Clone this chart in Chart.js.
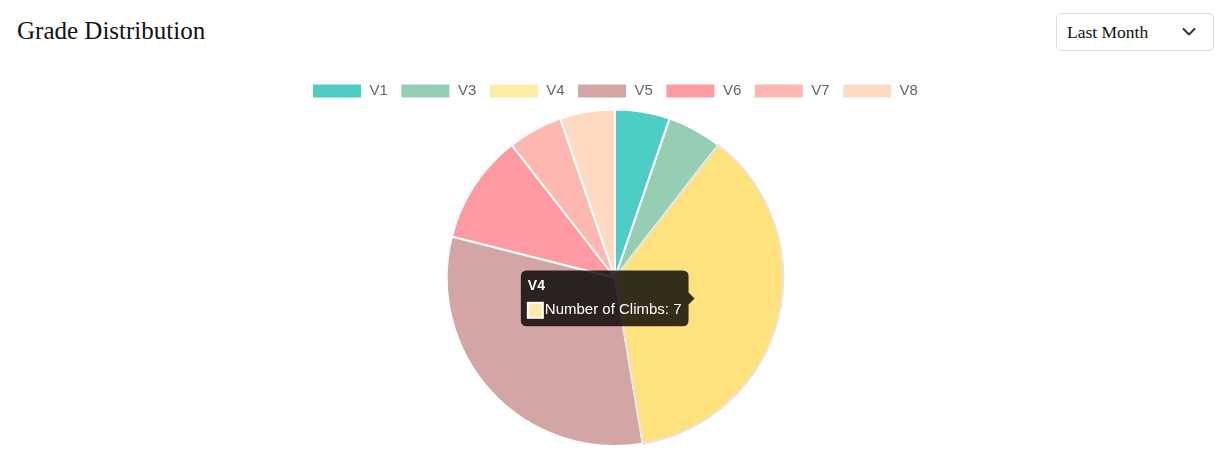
<!DOCTYPE html>
<html>
<head>
<meta charset="utf-8">
<script src="https://cdn.jsdelivr.net/npm/chart.js@4.4.0/dist/chart.umd.min.js"></script>
<style>
  html, body { margin: 0; padding: 0; background: #fff; width: 1230px; height: 459px; overflow: hidden; }
  #title { position: absolute; left: 17px; top: 15px; font-family: "Liberation Serif", "Times New Roman", serif; font-size: 25px; color: #111; margin: 0; font-weight: normal; line-height: 32px; }
  #range { position: absolute; left: 1056px; top: 13px; width: 158px; height: 38px; border: 1px solid #dcdde3; border-radius: 5px; box-sizing: border-box; font-family: "Liberation Serif", "Times New Roman", serif; font-size: 17.5px; color: #111; }
  #range span { position: absolute; left: 10px; top: 7px; line-height: 22px; }
  #range svg { position: absolute; left: 125px; top: 13px; }
  #wrap { position: absolute; left: 0; top: 71px; width: 1230px; height: 376px; }
</style>
</head>
<body>
<h2 id="title">Grade Distribution</h2>
<div id="range"><span>Last Month</span><svg width="14" height="10" viewBox="0 0 14 10"><path d="M1.5 2 L7 7.5 L12.5 2" fill="none" stroke="#333" stroke-width="2" stroke-linecap="round" stroke-linejoin="round"/></svg></div>
<div id="wrap"><canvas id="c"></canvas></div>
<script>
const grades = ["V1", "V3", "V4", "V5", "V6", "V7", "V8"];
const climbCounts = [1, 1, 7, 6, 2, 1, 1];
const sliceColors = ["#4ECDC4", "#96CEB4", "#FFEAA7", "#D4A5A5", "#FF9AA2", "#FFB7B2", "#FFDAC1"];
const seriesLabel = "Number of Climbs";

Chart.defaults.font.size = 15;
const chart = new Chart(document.getElementById('c'), {
  type: 'pie',
  data: {
    labels: grades,
    datasets: [{
      label: seriesLabel,
      data: climbCounts,
      backgroundColor: sliceColors
    }]
  },
  options: {
    responsive: true,
    maintainAspectRatio: false,
    animation: false,
    plugins: {
      legend: {
        position: 'top',
        labels: { boxWidth: 50, padding: 12.5, color: '#666', font: { size: 15 } }
      },
      tooltip: {
        padding: 7,
        caretSize: 6,
        cornerRadius: 6,
        titleFont: { size: 14, weight: 'bold' },
        bodyFont: { size: 15 },
        titleMarginBottom: 7
      }
    }
  }
});
const act = [{ datasetIndex: 0, index: 2 }];
chart.setActiveElements(act);
const el = chart.getDatasetMeta(0).data[2];
const pos = el.tooltipPosition();
chart.tooltip.setActiveElements(act, { x: pos.x, y: pos.y });
chart.update('none');
</script>
</body>
</html>
